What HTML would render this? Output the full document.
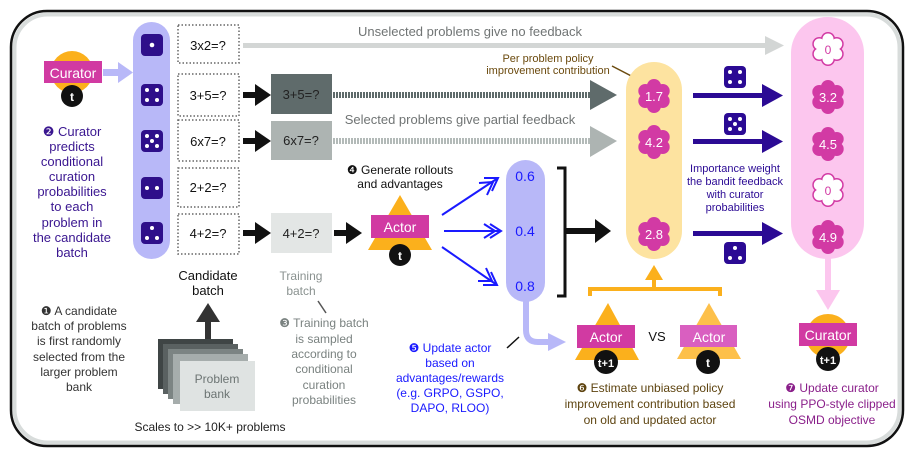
<!DOCTYPE html>
<html><head><meta charset="utf-8"><style>
html,body{margin:0;padding:0;background:#fff;width:914px;height:457px;overflow:hidden}
svg{display:block}
text{font-family:"Liberation Sans",sans-serif}
</style></head><body>
<svg width="914" height="457" viewBox="0 0 914 457" xmlns="http://www.w3.org/2000/svg">
<defs>
<g id="flf"><circle r="11" /><circle cx="0" cy="-10" r="7"/><circle cx="8.7" cy="-5" r="7"/><circle cx="8.7" cy="5" r="7"/><circle cx="0" cy="10" r="7"/><circle cx="-8.7" cy="5" r="7"/><circle cx="-8.7" cy="-5" r="7"/></g>
<g id="fli"><circle r="9.5" /><circle cx="0" cy="-10" r="5.5"/><circle cx="8.7" cy="-5" r="5.5"/><circle cx="8.7" cy="5" r="5.5"/><circle cx="0" cy="10" r="5.5"/><circle cx="-8.7" cy="5" r="5.5"/><circle cx="-8.7" cy="-5" r="5.5"/></g>
<pattern id="dk" width="3" height="8" patternUnits="userSpaceOnUse"><rect width="2" height="8" fill="#5f6b6b"/></pattern>
<pattern id="lt" width="3" height="8" patternUnits="userSpaceOnUse"><rect width="2" height="8" fill="#b3bab8"/></pattern>
</defs>
<!-- frame -->
<rect x="11" y="11" width="892" height="435" rx="36" fill="#fff" stroke="#111" stroke-width="2.5"/>
<rect x="14.5" y="14.5" width="885" height="428" rx="33" fill="none" stroke="#d8dcdb" stroke-width="4"/>

<!-- top gray line -->
<rect x="243" y="43" width="524" height="5" fill="#d3d6d5"/>
<polygon points="765,36 784,45.5 765,55" fill="#d3d6d5"/>
<text x="470" y="36" font-size="13" fill="#707474" text-anchor="middle">Unselected problems give no feedback</text>
<text x="460" y="124" font-size="13" fill="#707474" text-anchor="middle">Selected problems give partial feedback</text>

<!-- curator t -->
<circle cx="72" cy="72" r="21" fill="#fbb01c"/>
<rect x="44" y="61" width="58" height="22" fill="#d13aa2"/>
<text x="73" y="78" font-size="14" fill="#fff" text-anchor="middle">Curator</text>
<circle cx="72" cy="96" r="11" fill="#111"/>
<text x="72" y="101" font-size="12" font-weight="bold" fill="#fff" text-anchor="middle" font-family="Liberation Serif">t</text>
<rect x="103" y="69" width="16" height="7" fill="#b8b8f8"/>
<polygon points="118,62 133,72.5 118,83" fill="#b8b8f8"/>

<!-- lavender column -->
<rect x="133" y="22" width="37" height="237" rx="18.5" fill="#b8b8f8"/>
<g fill="#2e0f8a">
<rect x="141" y="34" width="22" height="22" rx="4"/>
<rect x="141" y="84" width="22" height="22" rx="4"/>
<rect x="141" y="130" width="22" height="22" rx="4"/>
<rect x="141" y="177" width="22" height="22" rx="4"/>
<rect x="141" y="222" width="22" height="22" rx="4"/>
</g>
<g fill="#fff">
<circle cx="152" cy="45" r="2.3"/>
<circle cx="147" cy="90" r="2"/><circle cx="157" cy="90" r="2"/><circle cx="147" cy="100" r="2"/><circle cx="157" cy="100" r="2"/>
<circle cx="147" cy="136" r="2"/><circle cx="157" cy="136" r="2"/><circle cx="152" cy="141" r="2"/><circle cx="147" cy="146" r="2"/><circle cx="157" cy="146" r="2"/>
<circle cx="147" cy="188" r="2"/><circle cx="157" cy="188" r="2"/>
<circle cx="152" cy="228" r="2"/><circle cx="147" cy="238" r="2"/><circle cx="157" cy="238" r="2"/>
</g>

<!-- dotted boxes -->
<g fill="#fff" stroke="#666" stroke-width="1.5" stroke-dasharray="1.5,2">
<rect x="178" y="25" width="61" height="38"/>
<rect x="178" y="74" width="61" height="42"/>
<rect x="178" y="120" width="61" height="41"/>
<rect x="178" y="168" width="61" height="39"/>
<rect x="178" y="214" width="61" height="40"/>
</g>
<g font-size="13" fill="#111" text-anchor="middle">
<text x="208" y="50">3x2=?</text>
<text x="208" y="100">3+5=?</text>
<text x="208" y="146">6x7=?</text>
<text x="208" y="192">2+2=?</text>
<text x="208" y="238">4+2=?</text>
</g>
<!-- black arrows -->
<g fill="#111">
<rect x="243" y="92" width="14" height="6"/><polygon points="255,84 271,95 255,106"/>
<rect x="243" y="138" width="14" height="6"/><polygon points="255,130 271,141 255,152"/>
<rect x="243" y="230" width="14" height="6"/><polygon points="255,222 271,233 255,244"/>
<rect x="334" y="230" width="14" height="6"/><polygon points="346,222 362,233 346,244"/>
</g>
<rect x="271" y="74" width="61" height="40" fill="#5f6b6b"/>
<rect x="271" y="121" width="61" height="39" fill="#adb4b2"/>
<rect x="271" y="213" width="61" height="40" fill="#e3e6e5"/>
<g font-size="13" fill="#222" text-anchor="middle">
<text x="301" y="99">3+5=?</text>
<text x="301" y="145">6x7=?</text>
<text x="301" y="238">4+2=?</text>
</g>
<rect x="333" y="92" width="257" height="6" fill="url(#dk)"/>
<polygon points="590,80 617,95 590,110" fill="#5f6b6b"/>
<rect x="333" y="138" width="257" height="6" fill="url(#lt)"/>
<polygon points="590,126 617,141 590,157" fill="#adb4b2"/>

<!-- per problem label -->
<text x="548" y="62" font-size="11" fill="#6b4a0e" text-anchor="middle">Per problem policy</text>
<text x="548" y="74" font-size="11" fill="#6b4a0e" text-anchor="middle">improvement contribution</text>
<line x1="612" y1="66" x2="639" y2="80" stroke="#6b4a0e" stroke-width="1.5"/>

<!-- yellow column -->
<rect x="626" y="62" width="56" height="197" rx="28" fill="#fde3a0"/>
<g fill="#d23aa4"><use href="#flf" x="654" y="96"/><use href="#flf" x="654" y="142"/><use href="#flf" x="654" y="234"/></g>
<g font-size="13" fill="#fff" text-anchor="middle">
<text x="654" y="101">1.7</text><text x="654" y="147">4.2</text><text x="654" y="239">2.8</text>
</g>

<!-- purple arrows -->
<g fill="#2b0a94">
<rect x="693" y="93" width="70" height="5"/><polygon points="762,84 783,95.5 762,107"/>
<rect x="693" y="139" width="70" height="5"/><polygon points="762,130 783,141.5 762,153"/>
<rect x="693" y="231" width="70" height="5"/><polygon points="762,222 783,233.5 762,245"/>
<rect x="724" y="66" width="22" height="22" rx="4"/>
<rect x="724" y="113" width="22" height="22" rx="4"/>
<rect x="724" y="242" width="22" height="22" rx="4"/>
</g>
<g fill="#fff">
<circle cx="730" cy="72" r="2"/><circle cx="740" cy="72" r="2"/><circle cx="730" cy="82" r="2"/><circle cx="740" cy="82" r="2"/>
<circle cx="730" cy="119" r="2"/><circle cx="740" cy="119" r="2"/><circle cx="735" cy="124" r="2"/><circle cx="730" cy="129" r="2"/><circle cx="740" cy="129" r="2"/>
<circle cx="735" cy="248" r="2"/><circle cx="730" cy="258" r="2"/><circle cx="740" cy="258" r="2"/>
</g>
<g font-size="11" fill="#2b0a94" text-anchor="middle">
<text x="735" y="172">Importance weight</text>
<text x="735" y="185">the bandit feedback</text>
<text x="735" y="198">with curator</text>
<text x="735" y="211">probabilities</text>
</g>

<!-- pink column -->
<rect x="791" y="17" width="73" height="242" rx="36" fill="#fcc6ee"/>
<g fill="#d23aa4"><use href="#flf" x="828" y="49"/><use href="#flf" x="828" y="97"/><use href="#flf" x="828" y="144"/><use href="#flf" x="828" y="190"/><use href="#flf" x="828" y="237"/></g>
<g fill="#fff"><use href="#fli" x="828" y="49"/><use href="#fli" x="828" y="190"/></g>
<g font-size="13" text-anchor="middle">
<text x="828" y="54" fill="#d23aa4" font-size="12">0</text>
<text x="828" y="102" fill="#fff">3.2</text>
<text x="828" y="149" fill="#fff">4.5</text>
<text x="828" y="195" fill="#d23aa4" font-size="12">0</text>
<text x="828" y="242" fill="#fff">4.9</text>
</g>
<rect x="825" y="258" width="6" height="34" fill="#fcc6ee"/>
<polygon points="816,290 840,290 828,310" fill="#fcc6ee"/>

<!-- curator t+1 -->
<circle cx="828" cy="336" r="22" fill="#fbb01c"/>
<rect x="799" y="323" width="58" height="23" fill="#d13aa2"/>
<text x="828" y="340" font-size="14" fill="#fff" text-anchor="middle">Curator</text>
<circle cx="828" cy="359" r="12" fill="#111"/>
<text x="828" y="364" font-size="11" font-weight="bold" fill="#fff" text-anchor="middle" font-family="Liberation Serif">t+1</text>
<g font-size="12" fill="#8a1f8a" text-anchor="middle">
<text x="832" y="392">❼ Update curator</text>
<text x="832" y="408">using PPO-style clipped</text>
<text x="832" y="424">OSMD objective</text>
</g>

<!-- actor t -->
<text x="400" y="174" font-size="12" fill="#111" text-anchor="middle">❹ Generate rollouts</text>
<text x="400" y="188" font-size="12" fill="#111" text-anchor="middle">and advantages</text>
<polygon points="400,195 368,250 432,250" fill="#fbb01c"/>
<rect x="371" y="215" width="58" height="23" fill="#d13aa2"/>
<text x="400" y="232" font-size="14" fill="#fff" text-anchor="middle">Actor</text>
<circle cx="400" cy="255" r="11" fill="#111"/>
<text x="400" y="260" font-size="12" font-weight="bold" fill="#fff" text-anchor="middle" font-family="Liberation Serif">t</text>

<!-- blue arrows -->
<g stroke="#1a1aff" stroke-width="2" fill="none">
<line x1="442" y1="215" x2="498" y2="178"/>
<polyline points="484,178 498,178 492,191"/><polyline points="479,183 493,182 487,195"/>
<line x1="444" y1="231" x2="501" y2="231"/>
<polyline points="490,224 501,231 490,238"/><polyline points="484,224 495,231 484,238"/>
<line x1="442" y1="247" x2="497" y2="285"/>
<polyline points="491,272 497,285 483,285"/><polyline points="486,268 492,281 478,281"/>
</g>
<rect x="506" y="160" width="39" height="142" rx="19.5" fill="#b8b8f8"/>
<g font-size="14" fill="#1a1aff" text-anchor="middle">
<text x="525" y="181">0.6</text><text x="525" y="236">0.4</text><text x="525" y="291">0.8</text>
</g>
<!-- bracket -->
<polyline points="557,168 565,168 565,296 557,296" stroke="#111" stroke-width="3" fill="none"/>
<rect x="565" y="228" width="32" height="6" fill="#111"/>
<polygon points="595,219 611,231 595,243" fill="#111"/>

<!-- lavender L arrow -->
<path d="M526,300 L526,330 Q526,342 538,342 L550,342" stroke="#b8b8f8" stroke-width="6" fill="none"/>
<polygon points="548,333 566,342 548,351" fill="#b8b8f8"/>
<line x1="507" y1="348" x2="519" y2="337" stroke="#111" stroke-width="1.5"/>
<g font-size="12" fill="#1a1aff" text-anchor="middle">
<text x="450" y="352">❺ Update actor</text>
<text x="450" y="367">based on</text>
<text x="450" y="382">advantages/rewards</text>
<text x="450" y="397">(e.g. GRPO, GSPO,</text>
<text x="450" y="412">DAPO, RLOO)</text>
</g>

<!-- orange bracket -->
<polyline points="590,296 590,289 720,289 720,296" stroke="#fbb01c" stroke-width="4" fill="none"/>
<rect x="652" y="275" width="4" height="15" fill="#fbb01c"/>
<polygon points="645,280 663,280 654,265" fill="#fbb01c"/>

<!-- actor t+1 -->
<polygon points="608,303 575,360 639,360" fill="#fbb01c"/>
<rect x="577" y="325" width="58" height="23" fill="#d13aa2"/>
<text x="606" y="342" font-size="14" fill="#fff" text-anchor="middle">Actor</text>
<circle cx="606" cy="362" r="12" fill="#111"/>
<text x="606" y="367" font-size="11" font-weight="bold" fill="#fff" text-anchor="middle" font-family="Liberation Serif">t+1</text>
<text x="657" y="341" font-size="13" fill="#111" text-anchor="middle">VS</text>
<polygon points="709,303 677,359 741,359" fill="#fdc04a"/>
<rect x="680" y="325" width="57" height="22" fill="#d95fc0"/>
<text x="709" y="342" font-size="14" fill="#fff" text-anchor="middle">Actor</text>
<circle cx="708" cy="362" r="12" fill="#111"/>
<text x="708" y="367" font-size="12" font-weight="bold" fill="#fff" text-anchor="middle" font-family="Liberation Serif">t</text>
<g font-size="12" fill="#5e4410" text-anchor="middle">
<text x="650" y="392">❻ Estimate unbiased policy</text>
<text x="650" y="408">improvement contribution based</text>
<text x="650" y="424">on old and updated actor</text>
</g>

<!-- left texts -->
<g font-size="13" fill="#3a1690" text-anchor="middle">
<text x="72" y="136">❷ Curator</text>
<text x="72" y="151">predicts</text>
<text x="72" y="166">conditional</text>
<text x="72" y="181">curation</text>
<text x="72" y="196">probabilities</text>
<text x="72" y="211">to each</text>
<text x="72" y="227">problem in</text>
<text x="72" y="242">the candidate</text>
<text x="72" y="257">batch</text>
</g>
<g font-size="13" fill="#111" text-anchor="middle">
<text x="208" y="280">Candidate</text>
<text x="208" y="295">batch</text>
</g>
<g font-size="12" fill="#8a9290" text-anchor="middle">
<text x="301" y="280">Training</text>
<text x="301" y="295">batch</text>
</g>
<line x1="318" y1="301" x2="326" y2="313" stroke="#555" stroke-width="1.5"/>
<g font-size="12" fill="#7a8280" text-anchor="middle">
<text x="324" y="327">❸ Training batch</text>
<text x="324" y="343">is sampled</text>
<text x="324" y="358">according to</text>
<text x="324" y="373">conditional</text>
<text x="324" y="389">curation</text>
<text x="324" y="404">probabilities</text>
</g>
<g font-size="12" fill="#333" text-anchor="middle">
<text x="79" y="315">❶ A candidate</text>
<text x="79" y="330">batch of problems</text>
<text x="79" y="345">is first randomly</text>
<text x="79" y="361">selected from the</text>
<text x="79" y="376">larger problem</text>
<text x="79" y="391">bank</text>
</g>

<!-- problem bank -->
<rect x="205" y="316" width="6" height="26" fill="#333"/>
<polygon points="196,322 220,322 208,303" fill="#333"/>
<rect x="158" y="339" width="75" height="50" fill="#3f4545"/>
<rect x="163" y="344" width="75" height="50" fill="#5a6161"/>
<rect x="168" y="349" width="75" height="50" fill="#7c8483"/>
<rect x="173" y="354" width="75" height="50" fill="#a6adac"/>
<rect x="180" y="361" width="75" height="50" fill="#dfe3e2"/>
<text x="217" y="383" font-size="12" fill="#6c7473" text-anchor="middle">Problem</text>
<text x="217" y="398" font-size="12" fill="#6c7473" text-anchor="middle">bank</text>
<text x="210" y="431" font-size="12" fill="#222" text-anchor="middle">Scales to &gt;&gt; 10K+ problems</text>
</svg>
</body></html>
